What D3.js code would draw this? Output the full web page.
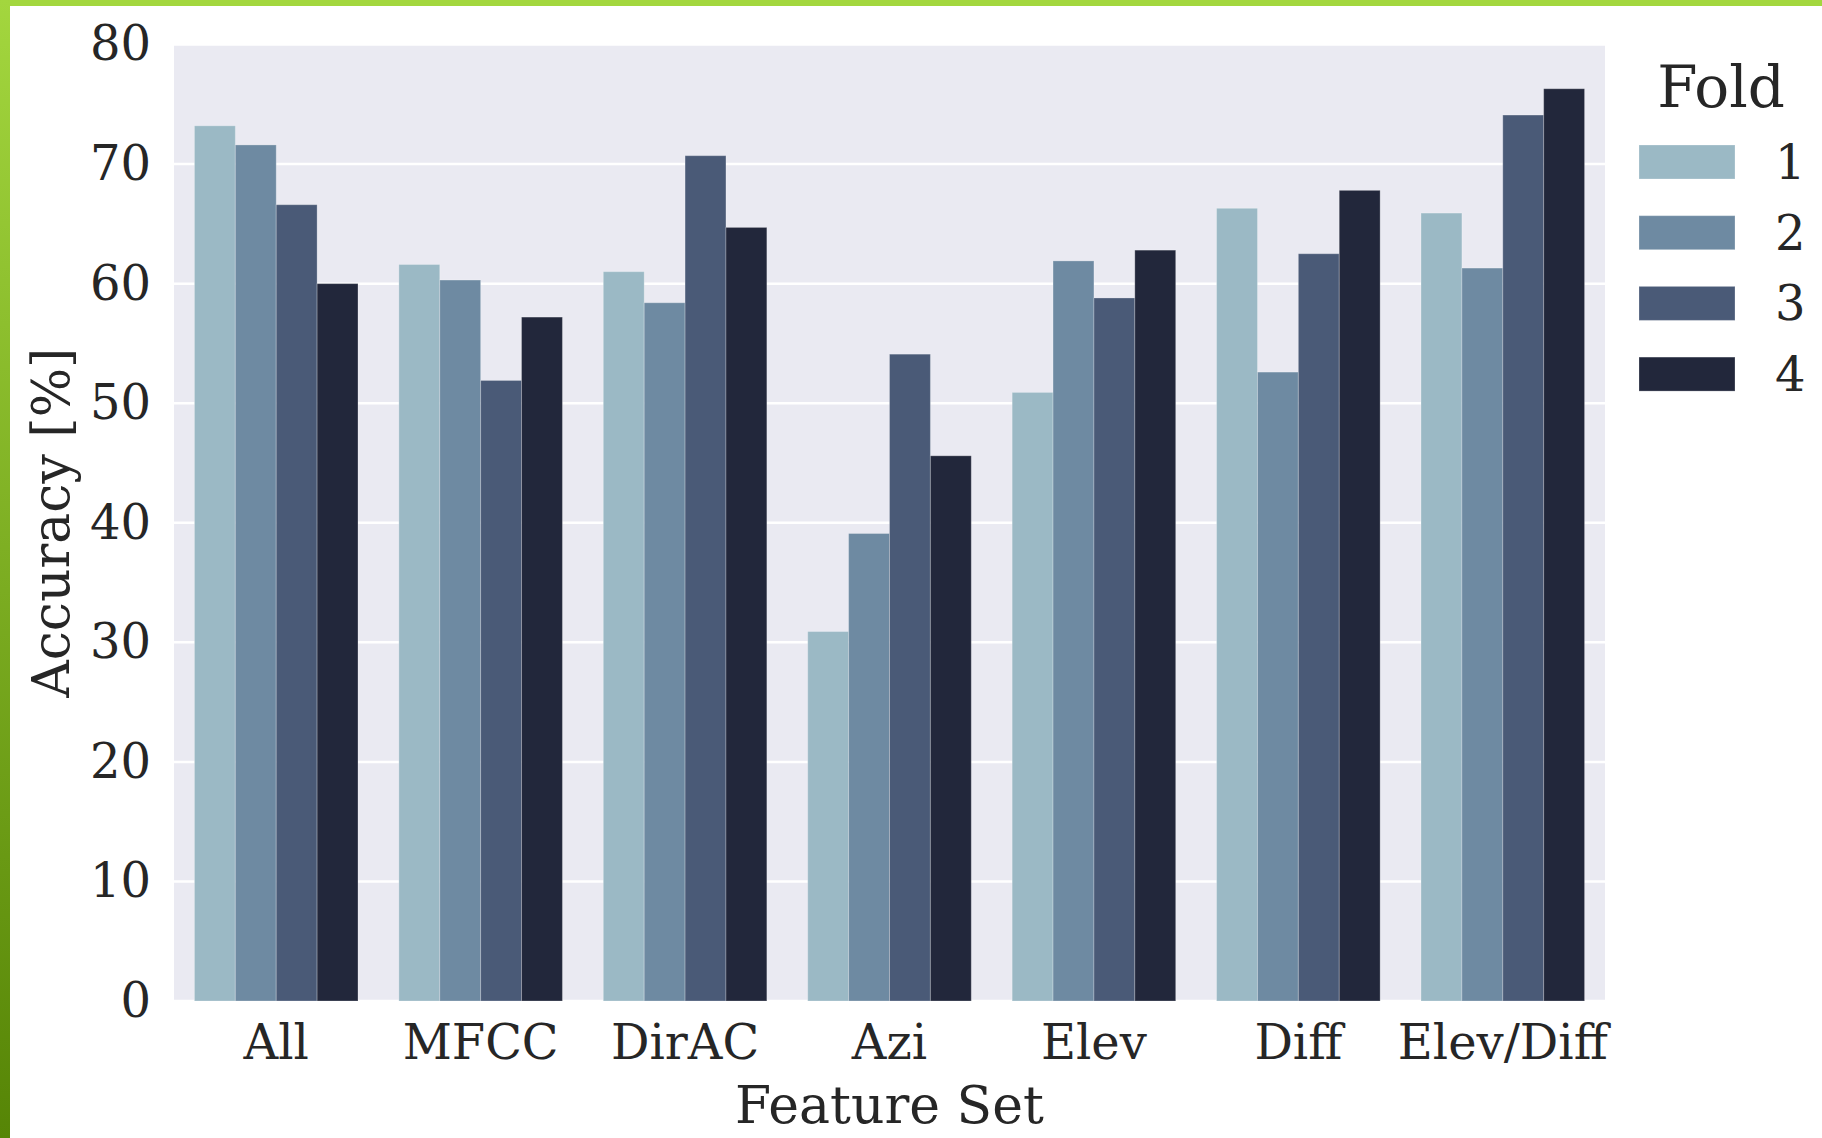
<!DOCTYPE html>
<html>
<head>
<meta charset="utf-8">
<script src="https://cdn.jsdelivr.net/npm/d3@7"></script>
<style>
  body { margin: 0; background: #fff; }
  text { font-family: "DejaVu Serif", serif; fill: #262626; }
</style>
</head>
<body>
<script>
// data
const categories = ["All", "MFCC", "DirAC", "Azi", "Elev", "Diff", "Elev/Diff"];
const folds = ["1", "2", "3", "4"];
const fold1 = [73.2, 61.6, 61.0, 30.9, 50.9, 66.3, 65.9];
const fold2 = [71.6, 60.3, 58.4, 39.1, 61.9, 52.6, 61.3];
const fold3 = [66.6, 51.9, 70.7, 54.1, 58.8, 62.5, 74.1];
const fold4 = [60.0, 57.2, 64.7, 45.6, 62.8, 67.8, 76.3];
const yTicks = [0, 10, 20, 30, 40, 50, 60, 70, 80];
const foldColors = ["#9bb9c5", "#6e8aa2", "#4a5a77", "#22273b"];

const foldValues = [fold1, fold2, fold3, fold4];
const data = categories.map((c, i) => ({
  cat: c,
  vals: folds.map((f, j) => ({ fold: f, value: foldValues[j][i] }))
}));

const width = 1822, height = 1138;
const plot = { left: 174, right: 1605, top: 44.5, bottom: 1001 };

const svg = d3.select("body").append("svg")
  .attr("width", width)
  .attr("height", height);

// green frame (top + left edge)
const grad = svg.append("defs").append("linearGradient")
  .attr("id", "edge").attr("x1", 0).attr("y1", 0).attr("x2", 0).attr("y2", 1);
grad.append("stop").attr("offset", "0%").attr("stop-color", "#a3d63e");
grad.append("stop").attr("offset", "100%").attr("stop-color", "#568506");
svg.append("rect").attr("x", 0).attr("y", 0).attr("width", width).attr("height", 6).attr("fill", "#a3d73e");
svg.append("rect").attr("x", 0).attr("y", 0).attr("width", 10).attr("height", height).attr("fill", "url(#edge)");

const x = d3.scaleBand()
  .domain(categories)
  .range([plot.left, plot.right])
  .paddingInner(0.2)
  .paddingOuter(0.1);

const xFold = d3.scaleBand()
  .domain(folds)
  .range([0, x.bandwidth()]);

const y = d3.scaleLinear()
  .domain([0, 80])
  .range([plot.bottom, plot.top]);

const color = d3.scaleOrdinal().domain(folds).range(foldColors);

// plot background + grid
svg.append("rect")
  .attr("x", plot.left).attr("y", plot.top)
  .attr("width", plot.right - plot.left).attr("height", plot.bottom - plot.top)
  .attr("fill", "#eaeaf2");

svg.append("g")
  .selectAll("line")
  .data(yTicks)
  .join("line")
  .attr("x1", plot.left).attr("x2", plot.right)
  .attr("y1", d => y(d)).attr("y2", d => y(d))
  .attr("stroke", "#fff")
  .attr("stroke-width", 2.5);

// bars
svg.append("g")
  .selectAll("g")
  .data(data)
  .join("g")
  .attr("transform", d => `translate(${x(d.cat)},0)`)
  .selectAll("rect")
  .data(d => d.vals)
  .join("rect")
  .attr("x", d => xFold(d.fold))
  .attr("y", d => y(d.value))
  .attr("width", xFold.bandwidth())
  .attr("height", d => y(0) - y(d.value))
  .attr("fill", d => color(d.fold))
  .attr("stroke", "rgba(255,255,255,0.25)")
  .attr("stroke-width", 1);

// y axis
const yAxis = svg.append("g")
  .attr("transform", `translate(${plot.left},0)`)
  .call(d3.axisLeft(y).tickValues(yTicks).tickSize(0).tickPadding(23));
yAxis.select(".domain").remove();
yAxis.selectAll("text")
  .attr("font-size", 48)
  .attr("fill", "#262626")
  .attr("font-family", "DejaVu Serif");

// x axis
const xAxis = svg.append("g")
  .attr("transform", `translate(0,${plot.bottom})`)
  .call(d3.axisBottom(x).tickSize(0).tickPadding(24));
xAxis.select(".domain").remove();
xAxis.selectAll("text")
  .attr("font-size", 48)
  .attr("fill", "#262626")
  .attr("font-family", "DejaVu Serif");

// axis titles
svg.append("text")
  .attr("x", (plot.left + plot.right) / 2)
  .attr("y", 1123)
  .attr("text-anchor", "middle")
  .attr("font-size", 52)
  .text("Feature Set");

svg.append("text")
  .attr("transform", `translate(69,${(plot.top + plot.bottom) / 2}) rotate(-90)`)
  .attr("text-anchor", "middle")
  .attr("font-size", 52)
  .text("Accuracy [%]");

// legend
const legend = svg.append("g");
legend.append("text")
  .attr("x", 1721)
  .attr("y", 107)
  .attr("text-anchor", "middle")
  .attr("font-size", 58)
  .text("Fold");

const item = legend.selectAll("g.item")
  .data(folds)
  .join("g")
  .attr("class", "item")
  .attr("transform", (d, i) => `translate(1639,${145 + i * 70.7})`);

item.append("rect")
  .attr("width", 96)
  .attr("height", 34)
  .attr("fill", d => color(d))
  .attr("stroke", "rgba(255,255,255,0.25)");

item.append("text")
  .attr("x", 136)
  .attr("y", 17)
  .attr("dy", "0.35em")
  .attr("font-size", 48)
  .text(d => d);
</script>
</body>
</html>
